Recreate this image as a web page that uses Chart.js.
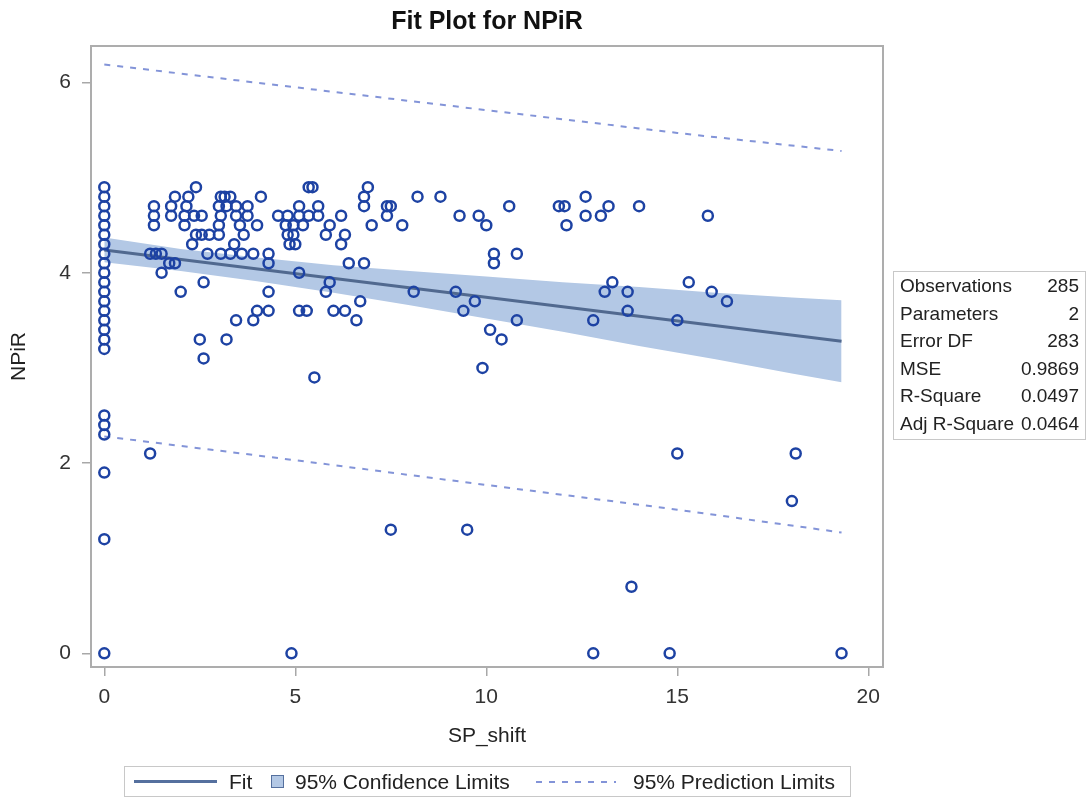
<!DOCTYPE html>
<html>
<head>
<meta charset="utf-8">
<title>Fit Plot for NPiR</title>
<script src="https://cdn.jsdelivr.net/npm/chart.js@4.4.1/dist/chart.umd.min.js"></script>
<style>
  html, body { margin: 0; padding: 0; background: #fff; overflow: hidden; }
  body { width: 1087px; height: 799px; position: relative; font-family: "Liberation Sans", Arial, sans-serif; }
  #wrap { position: absolute; left: 0; top: 0; width: 1087px; height: 799px; }
  #stats { position: absolute; left: 893px; top: 271px; width: 193px; height: 169px; box-sizing: border-box;
           border: 1px solid #c8c8c8; padding: 0 6px 0 6px; font-size: 19px; color: #222; }
  #stats .row { display: flex; justify-content: space-between; height: 27.5px; line-height: 27.5px; white-space: nowrap; }
  #legend { position: absolute; left: 124px; top: 766px; width: 727px; height: 31px; box-sizing: border-box;
            border: 1px solid #c8c8c8; font-size: 21px; color: #222; }
  #legend .item { position: absolute; top: 0; line-height: 29px; white-space: nowrap; }
  #legend .swatch { position: absolute; }
</style>
</head>
<body>
<div id="wrap"><canvas id="chart"></canvas></div>
<div id="stats"></div>
<div id="legend">
  <div class="swatch" style="left:9px; top:13px; width:83px; height:3px; background:#55709e;"></div>
  <div class="item" style="left:104px;">Fit</div>
  <div class="swatch" style="left:146px; top:8px; width:11px; height:11px; background:#b3c8e5; border:1px solid #55709e;"></div>
  <div class="item" style="left:170px;">95% Confidence Limits</div>
  <div class="swatch" style="left:411px; top:14px; width:80px; height:2px;
       background: repeating-linear-gradient(to right, #8394d8 0 6px, transparent 6px 13px);"></div>
  <div class="item" style="left:508px;">95% Prediction Limits</div>
</div>
<script>
// Observed points (SP_shift, NPiR)
const spShift = [
  0, 0, 0, 0, 0, 0, 0, 0, 0, 0, 0, 0, 0, 0, 0, 0, 0, 0, 0, 0, 0, 0, 0, 0,
  1.2, 1.3, 1.3, 1.3, 1.2, 1.35, 1.5, 1.7, 1.85, 1.5,
  1.85, 2.2, 1.75, 2.15, 1.75, 2.1, 2.35, 2.55, 2.4, 2.1,
  2.4, 2.55, 2.75, 3.0, 2.3, 2.7, 2.0, 2.6, 2.5, 3.2, 2.6,
  3.05, 3.15, 3.3, 3.0, 3.2, 3.45, 3.75, 3.05, 3.45, 3.75, 3.0, 3.55, 4.0, 3.65, 3.4,
  3.05, 3.3, 3.6, 3.9, 4.3, 4.3, 4.1, 4.3, 4.0, 4.3, 3.45, 3.9,
  4.9, 5.1, 5.1, 5.3, 5.35, 5.45, 5.1, 5.6,
  4.55, 4.8, 5.1, 5.35, 5.6, 4.75, 4.95, 5.2, 4.8, 4.95, 4.85, 5.0,
  5.9, 6.2, 5.8, 6.3, 6.2, 6.4, 6.8, 5.9, 5.8, 6.0, 6.3, 6.7, 6.6, 5.5,
  6.9, 6.8, 6.8, 7.0, 7.4, 7.5, 7.4, 7.8, 7.5,
  8.2, 8.8, 8.1, 9.3, 9.8, 10.0, 10.6, 10.2, 10.2, 10.8,
  9.2, 9.7, 9.4, 10.8, 10.1, 10.4, 9.9, 9.5,
  11.9, 12.05, 12.1, 12.6, 12.6, 13.0, 13.2, 14.0, 15.8,
  12.8, 13.1, 13.3, 13.7, 13.7, 15.0, 15.3, 15.9, 16.3,
  15.0, 18.1, 18.0, 13.8, 12.8, 14.8, 19.3
];
const npir = [
  4.9, 4.8, 4.7, 4.6, 4.5, 4.4, 4.3, 4.2, 4.1, 4.0, 3.9, 3.8, 3.7, 3.6, 3.5, 3.4, 3.3, 3.2, 2.5, 2.4, 2.3, 1.9, 1.2, 0,
  2.1, 4.7, 4.6, 4.5, 4.2, 4.2, 4.2, 4.1, 4.1, 4.0,
  4.8, 4.8, 4.7, 4.7, 4.6, 4.6, 4.6, 4.6, 4.9, 4.5,
  4.4, 4.4, 4.4, 4.4, 4.3, 4.2, 3.8, 3.9, 3.3, 3.3, 3.1,
  4.8, 4.8, 4.8, 4.7, 4.7, 4.7, 4.7, 4.6, 4.6, 4.6, 4.5, 4.5, 4.5, 4.4, 4.3,
  4.2, 4.2, 4.2, 4.2, 4.2, 4.1, 4.8, 3.8, 3.6, 3.6, 3.5, 3.5,
  0, 4.0, 3.6, 3.6, 4.9, 4.9, 4.7, 4.7,
  4.6, 4.6, 4.6, 4.6, 4.6, 4.5, 4.5, 4.5, 4.4, 4.4, 4.3, 4.3,
  4.5, 4.6, 4.4, 4.4, 4.3, 4.1, 4.1, 3.9, 3.8, 3.6, 3.6, 3.7, 3.5, 2.9,
  4.9, 4.8, 4.7, 4.5, 4.7, 4.7, 4.6, 4.5, 1.3,
  4.8, 4.8, 3.8, 4.6, 4.6, 4.5, 4.7, 4.2, 4.1, 4.2,
  3.8, 3.7, 3.6, 3.5, 3.4, 3.3, 3.0, 1.3,
  4.7, 4.7, 4.5, 4.8, 4.6, 4.6, 4.7, 4.7, 4.6,
  3.5, 3.8, 3.9, 3.8, 3.6, 3.5, 3.9, 3.8, 3.7,
  2.1, 2.1, 1.6, 0.7, 0, 0, 0
];

// Fit line
const fitX = [0, 19.3];
const fitY = [4.24, 3.28];

// 95% confidence band
const bandX = [0, 2, 4, 6, 8, 10, 12, 14, 16, 18, 19.3];
const ciUpper = [4.37, 4.25, 4.16, 4.08, 4.02, 3.96, 3.90, 3.85, 3.79, 3.74, 3.71];
const ciLower = [4.11, 4.02, 3.91, 3.79, 3.66, 3.52, 3.38, 3.23, 3.09, 2.94, 2.85];

// 95% prediction limits
const predX = [0, 5, 10, 15, 19.3];
const predUpper = [6.19, 5.95, 5.71, 5.47, 5.28];
const predLower = [2.28, 2.03, 1.77, 1.51, 1.27];

// Axes
const xTicks = [0, 5, 10, 15, 20];
const yTicks = [0, 2, 4, 6];

// Fit statistics table
const statLabels = ['Observations', 'Parameters', 'Error DF', 'MSE', 'R-Square', 'Adj R-Square'];
const statValues = ['285', '2', '283', '0.9869', '0.0497', '0.0464'];

const toPoints = (xs, ys) => xs.map((x, i) => ({ x: x, y: ys[i] }));

/**
 * Fill the statistics box
 */
function renderStats() {
  const box = document.getElementById('stats');
  box.innerHTML = statLabels.map((label, i) =>
    `<div class="row"><span>${label}</span><span>${statValues[i]}</span></div>`
  ).join('');
}

// Gray frame around the plot area
const framePlugin = {
  id: 'frame',
  beforeDatasetsDraw(chart) {
    const { ctx, chartArea: a } = chart;
    ctx.save();
    ctx.strokeStyle = '#adadad';
    ctx.lineWidth = 2;
    ctx.strokeRect(a.left, a.top, a.right - a.left, a.bottom - a.top);
    ctx.restore();
  }
};

Chart.defaults.font.family = '"Liberation Sans", Arial, sans-serif';
Chart.defaults.color = '#333';

renderStats();

new Chart(document.getElementById('chart').getContext('2d'), {
  type: 'scatter',
  data: {
    datasets: [
      {
        type: 'line',
        label: 'CI upper',
        data: toPoints(bandX, ciUpper),
        borderWidth: 0,
        pointRadius: 0,
        backgroundColor: '#b3c8e5',
        fill: '+1',
        order: 5,
      },
      {
        type: 'line',
        label: 'CI lower',
        data: toPoints(bandX, ciLower),
        borderWidth: 0,
        pointRadius: 0,
        fill: false,
        order: 6,
      },
      {
        type: 'line',
        label: 'Fit',
        data: toPoints(fitX, fitY),
        borderColor: '#51698f',
        borderWidth: 3,
        pointRadius: 0,
        fill: false,
        order: 2,
      },
      {
        type: 'line',
        label: 'PI upper',
        data: toPoints(predX, predUpper),
        borderColor: '#8394d8',
        borderWidth: 2,
        borderDash: [6, 7],
        pointRadius: 0,
        fill: false,
        order: 3,
      },
      {
        type: 'line',
        label: 'PI lower',
        data: toPoints(predX, predLower),
        borderColor: '#8394d8',
        borderWidth: 2,
        borderDash: [6, 7],
        pointRadius: 0,
        fill: false,
        order: 4,
      },
      {
        label: 'NPiR',
        data: toPoints(spShift, npir),
        pointRadius: 5,
        pointBorderWidth: 2.5,
        borderColor: '#1d42a3',
        backgroundColor: 'rgba(0,0,0,0)',
        order: 1,
      },
    ],
  },
  options: {
    responsive: true,
    maintainAspectRatio: false,
    animation: false,
    layout: { padding: { left: 0, right: 204, top: 0, bottom: 45 } },
    plugins: {
      legend: { display: false },
      tooltip: { enabled: false },
      title: {
        display: true,
        fullSize: false,
        text: 'Fit Plot for NPiR',
        color: '#111',
        font: { size: 25, weight: 'bold' },
        padding: { top: 7, bottom: 9 },
      },
    },
    scales: {
      x: {
        type: 'linear',
        min: -0.348,
        max: 20.385,
        afterBuildTicks: (scale) => { scale.ticks = xTicks.map(v => ({ value: v })); },
        afterFit: (scale) => { scale.height = 87; },
        grid: { display: true, drawOnChartArea: false, drawTicks: true, tickLength: 9, color: '#a8a8a8', lineWidth: 1.5 },
        border: { display: false },
        ticks: { font: { size: 21 }, padding: 9, color: '#333', maxRotation: 0 },
        title: { display: true, text: 'SP_shift', color: '#222', font: { size: 21 }, padding: { top: 0, bottom: 5 } },
      },
      y: {
        type: 'linear',
        min: -0.144,
        max: 6.384,
        afterBuildTicks: (scale) => { scale.ticks = yTicks.map(v => ({ value: v })); },
        afterFit: (scale) => { scale.width = 91; },
        grid: { display: true, drawOnChartArea: false, drawTicks: true, tickLength: 9, color: '#a8a8a8', lineWidth: 1.5 },
        border: { display: false },
        ticks: { font: { size: 21 }, padding: 11, color: '#333' },
        title: { display: true, text: 'NPiR', color: '#222', font: { size: 21 }, padding: { top: 7, bottom: 0 } },
      },
    },
  },
  plugins: [framePlugin],
});
</script>
</body>
</html>
